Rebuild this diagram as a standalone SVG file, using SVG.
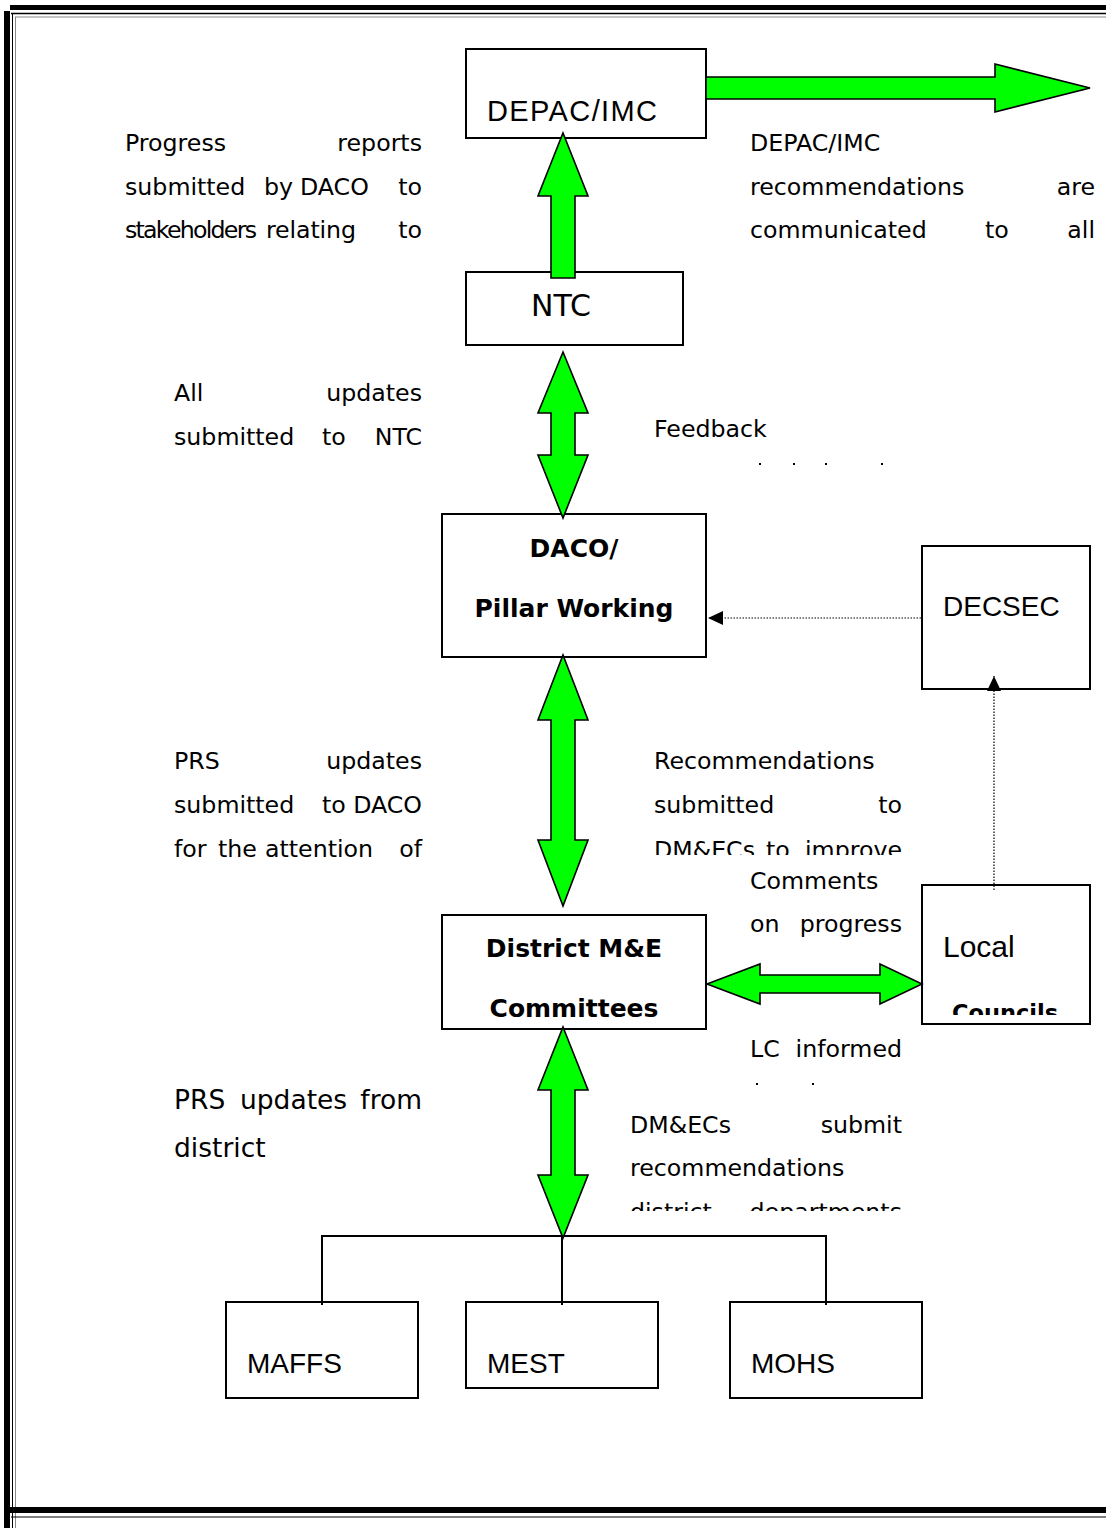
<svg xmlns="http://www.w3.org/2000/svg" width="1106" height="1528" viewBox="0 0 1106 1528">
<style>
.box{fill:#fff;stroke:#000;stroke-width:2}
.arr{fill:#00ff00;stroke:#000;stroke-width:1.6;stroke-linejoin:miter}
.t{font-family:"DejaVu Sans",Verdana,sans-serif;font-size:23.7px;fill:#000}
.t26{font-family:"DejaVu Sans",Verdana,sans-serif;font-size:26.5px;fill:#000}
.nl{font-family:"Liberation Sans",Arial,sans-serif;font-size:28px;fill:#000}
.cm{font-family:"DejaVu Sans",sans-serif;font-weight:bold;font-size:25px;fill:#000}
.e{text-anchor:end}
.dot{fill:none;stroke:#000;stroke-width:1.2;stroke-dasharray:1.5 1.5}
.tree{fill:none;stroke:#000;stroke-width:2}
</style>
<defs>
<marker id="ah" markerWidth="16" markerHeight="14" refX="15" refY="7" orient="auto" markerUnits="userSpaceOnUse">
<path d="M0,0 L15,7 L0,14 Z" fill="#000"/>
</marker>
<clipPath id="c1"><rect x="640" y="820" width="280" height="35"/></clipPath>
<clipPath id="c2"><rect x="620" y="1190" width="300" height="21"/></clipPath>
<clipPath id="c3"><rect x="930" y="990" width="150" height="25"/></clipPath>
</defs>
<rect width="1106" height="1528" fill="#fff"/>
<g id="border">
<rect x="10" y="5" width="1096" height="5" fill="#000"/>
<rect x="4" y="11" width="6" height="1517" fill="#000"/>
<line x1="11" y1="13.5" x2="1106" y2="13.5" stroke="#000" stroke-width="1.5"/>
<line x1="15" y1="17" x2="1106" y2="17" stroke="#888" stroke-width="1"/>
<line x1="12.5" y1="13" x2="12.5" y2="1528" stroke="#000" stroke-width="1"/>
<line x1="15.5" y1="17" x2="15.5" y2="1528" stroke="#888" stroke-width="1"/>
<rect x="10" y="1507" width="1096" height="6" fill="#000"/>
<line x1="11" y1="1517" x2="1106" y2="1517" stroke="#000" stroke-width="1.2"/>
</g>
<g id="n-depac"><rect class="box" x="466" y="49" width="240" height="89"/><text class="nl" x="487" y="121" style="font-size:29px" textLength="170">DEPAC/IMC</text></g>
<g id="n-ntc"><rect class="box" x="466" y="272" width="217" height="73"/><text class="nl" x="561" y="316" text-anchor="middle" style="font-family:'DejaVu Sans',sans-serif;font-size:30px">NTC</text></g>
<g id="n-daco"><rect class="box" x="442" y="514" width="264" height="143"/><text class="cm" x="574" y="557" text-anchor="middle">DACO/</text><text class="cm" x="574" y="617" text-anchor="middle">Pillar Working</text></g>
<g id="n-decsec"><rect class="box" x="922" y="546" width="168" height="143"/><text class="nl" x="943" y="616">DECSEC</text></g>
<g id="n-district"><rect class="box" x="442" y="915" width="264" height="114"/><text class="cm" x="574" y="957" text-anchor="middle">District M&amp;E</text><text class="cm" x="574" y="1017" text-anchor="middle">Committees</text></g>
<g id="n-local"><rect class="box" x="922" y="885" width="168" height="139"/><text class="nl" x="943" y="957" style="font-size:30px">Local</text><text class="cm" x="952" y="1021" clip-path="url(#c3)" style="font-size:22.5px">Councils</text></g>
<g id="n-maffs"><rect class="box" x="226" y="1302" width="192" height="96"/><text class="nl" x="247" y="1373">MAFFS</text></g>
<g id="n-mest"><rect class="box" x="466" y="1302" width="192" height="86"/><text class="nl" x="487" y="1373">MEST</text></g>
<g id="n-mohs"><rect class="box" x="730" y="1302" width="192" height="96"/><text class="nl" x="751" y="1373">MOHS</text></g>
<g id="connectors">
<polygon class="arr" points="706,77 995,77 995,64 1090,88 995,112 995,99 706,99"/>
<polygon class="arr" points="563,133 588,196 575,196 575,278 551,278 551,196 538,196"/>
<polygon class="arr" points="563,352 588,413 575,413 575,455 588,455 563,518 538,455 551,455 551,413 538,413"/>
<polygon class="arr" points="563,655 588,720 575,720 575,840 588,840 563,906 538,840 551,840 551,720 538,720"/>
<polygon class="arr" points="563,1027 588,1090 575,1090 575,1175 588,1175 563,1238 538,1175 551,1175 551,1090 538,1090"/>
<polygon class="arr" points="707,984 760,964 760,975 880,975 880,964 922,984 880,1004 880,993 760,993 760,1004"/>
<line class="dot" x1="921" y1="618" x2="708" y2="618" marker-end="url(#ah)"/>
<line class="dot" x1="994" y1="890" x2="994" y2="676" marker-end="url(#ah)"/>
<polyline class="tree" points="322,1305 322,1236 826,1236 826,1305"/>
<line class="tree" x1="562" y1="1236" x2="562" y2="1305"/>
</g>
<g id="labels">
<text class="t" x="125" y="151">Progress</text><text class="t e" x="422" y="151">reports</text>
<text class="t" x="125" y="195">submitted</text><text class="t" x="264" y="195">by</text><text class="t" x="300" y="195">DACO</text><text class="t e" x="422" y="195">to</text>
<text class="t" x="125" y="238" textLength="132">stakeholders</text><text class="t" x="266" y="238" textLength="90">relating</text><text class="t e" x="422" y="238">to</text>

<text class="t" x="750" y="151">DEPAC/IMC</text>
<text class="t" x="750" y="195">recommendations</text><text class="t e" x="1095" y="195">are</text>
<text class="t" x="750" y="238">communicated</text><text class="t" x="985" y="238">to</text><text class="t e" x="1095" y="238">all</text>

<text class="t" x="174" y="401">All</text><text class="t e" x="422" y="401">updates</text>
<text class="t" x="174" y="445">submitted</text><text class="t" x="322" y="445">to</text><text class="t e" x="422" y="445">NTC</text>

<text class="t" x="654" y="437">Feedback</text>
<rect x="759" y="463" width="2" height="2" fill="#000"/>
<rect x="793" y="463" width="2" height="2" fill="#000"/>
<rect x="825" y="463" width="2" height="2" fill="#000"/>
<rect x="881" y="463" width="2" height="2" fill="#000"/>

<text class="t" x="174" y="769">PRS</text><text class="t e" x="422" y="769">updates</text>
<text class="t" x="174" y="813">submitted</text><text class="t" x="322" y="813">to</text><text class="t e" x="422" y="813">DACO</text>
<text class="t" x="174" y="857">for</text><text class="t" x="218" y="857">the</text><text class="t" x="265" y="857">attention</text><text class="t e" x="422" y="857">of</text>

<text class="t" x="654" y="769">Recommendations</text>
<text class="t" x="654" y="813">submitted</text><text class="t e" x="902" y="813">to</text>
<g clip-path="url(#c1)"><text class="t" x="654" y="858">DM&amp;ECs</text><text class="t" x="766" y="858">to</text><text class="t e" x="902" y="858">improve</text></g>

<text class="t" x="750" y="889">Comments</text>
<text class="t" x="750" y="932">on</text><text class="t e" x="902" y="932">progress</text>

<text class="t" x="750" y="1057">LC</text><text class="t e" x="902" y="1057">informed</text>
<rect x="756" y="1083" width="2" height="2" fill="#000"/>
<rect x="812" y="1083" width="2" height="2" fill="#000"/>

<text class="t26" x="174" y="1109">PRS</text><text class="t26" x="240" y="1109">updates</text><text class="t26 e" x="422" y="1109">from</text>
<text class="t26" x="174" y="1157">district</text>

<text class="t" x="630" y="1133">DM&amp;ECs</text><text class="t e" x="902" y="1133">submit</text>
<text class="t" x="630" y="1176">recommendations</text>
<g clip-path="url(#c2)"><text class="t" x="630" y="1220">district</text><text class="t e" x="902" y="1220">departments</text></g>
</g>
</svg>
